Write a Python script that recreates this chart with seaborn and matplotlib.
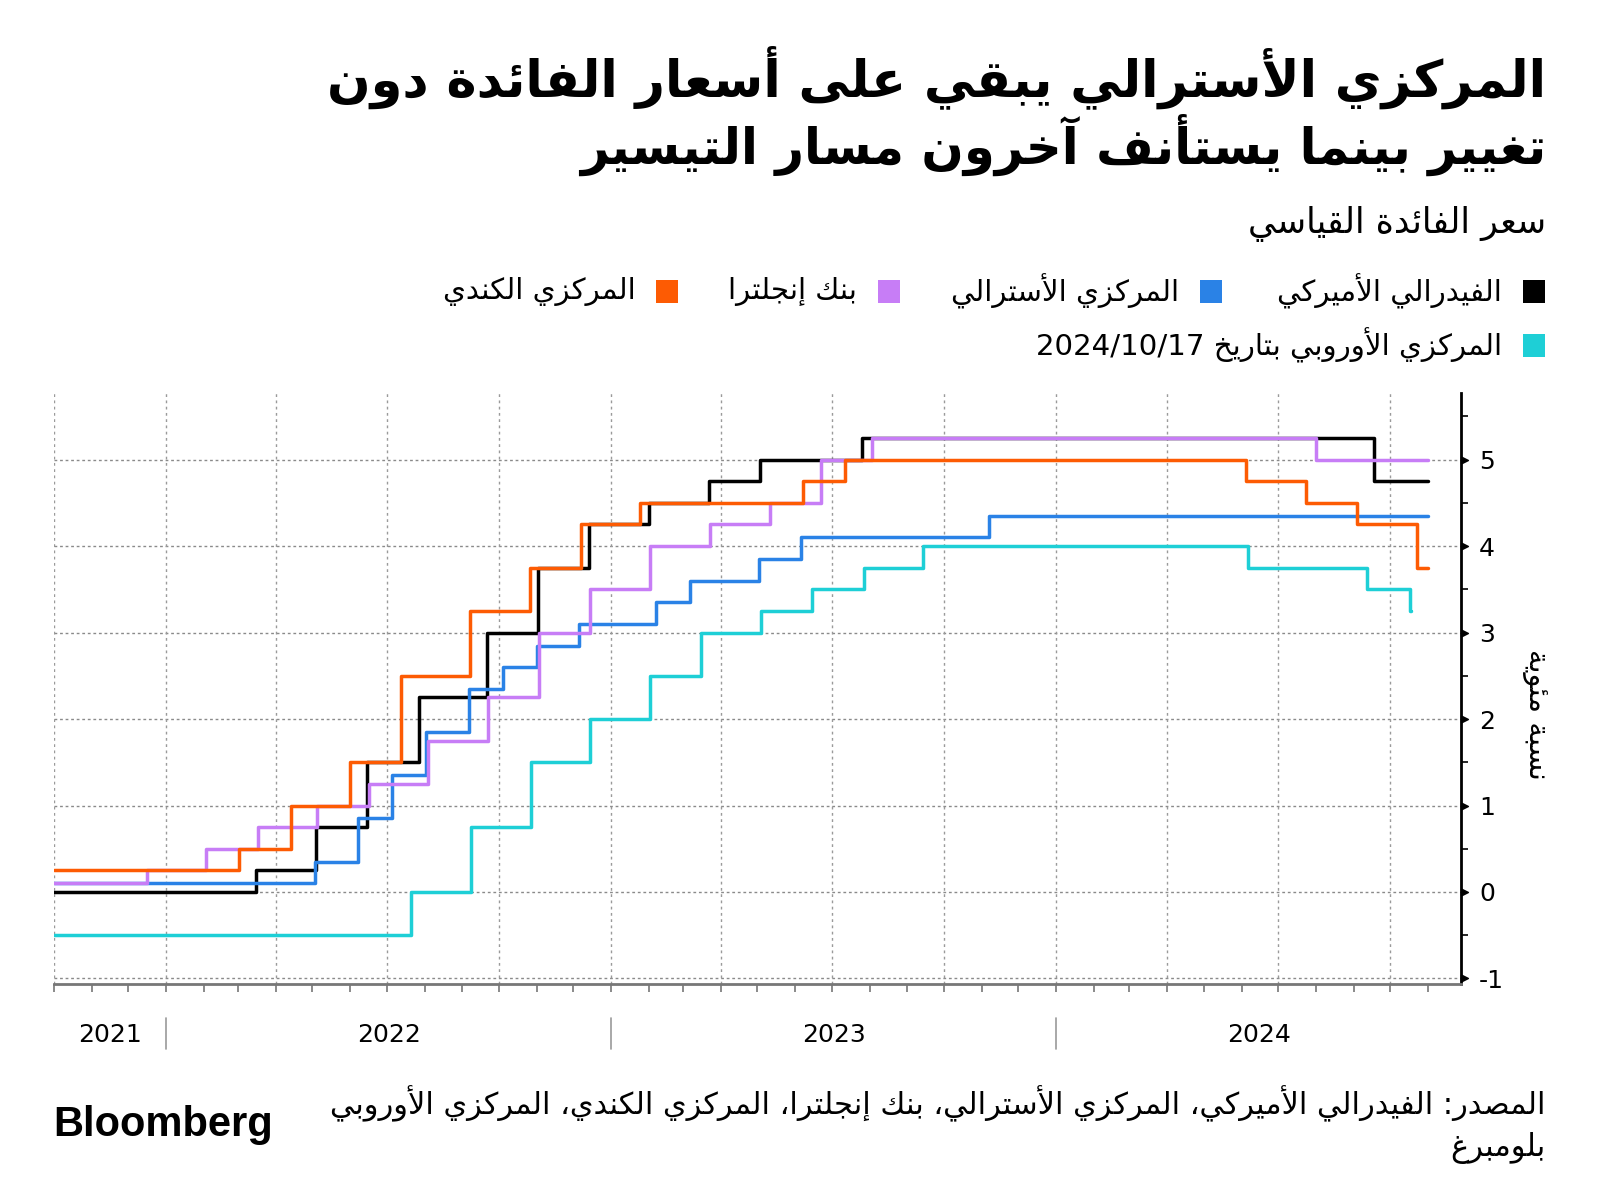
import re
import numpy as np
import pandas as pd
import matplotlib
matplotlib.use("Agg")
import matplotlib.pyplot as plt
import matplotlib.dates as mdates
from matplotlib.patches import Rectangle
from matplotlib.path import Path
import seaborn as sns

# ---------------- data ----------------
bank_names = ["الفيدرالي الأميركي", "المركزي الأسترالي", "بنك إنجلترا",
              "المركزي الكندي", "المركزي الأوروبي بتاريخ 2024/10/17"]
bank_colors = ["#000000", "#2a82e6", "#c77df6", "#fd5b03", "#1ecfd6"]

fed_dates = ["2021-10-01", "2022-03-16", "2022-05-04", "2022-06-15", "2022-07-27",
             "2022-09-21", "2022-11-02", "2022-12-14", "2023-02-01", "2023-03-22",
             "2023-05-03", "2023-07-26", "2024-09-18", "2024-11-01"]
fed_rates = [0.0, 0.25, 0.75, 1.5, 2.25, 3.0, 3.75, 4.25, 4.5, 4.75, 5.0, 5.25, 4.75, 4.75]

rba_dates = ["2021-10-01", "2022-05-03", "2022-06-07", "2022-07-05", "2022-08-02",
             "2022-09-06", "2022-10-04", "2022-11-01", "2022-12-06", "2023-02-07",
             "2023-03-07", "2023-05-02", "2023-06-06", "2023-11-07", "2024-11-01"]
rba_rates = [0.10, 0.35, 0.85, 1.35, 1.85, 2.35, 2.60, 2.85, 3.10, 3.35, 3.60, 3.85,
             4.10, 4.35, 4.35]

boe_dates = ["2021-10-01", "2021-12-16", "2022-02-03", "2022-03-17", "2022-05-05",
             "2022-06-16", "2022-08-04", "2022-09-22", "2022-11-03", "2022-12-15",
             "2023-02-02", "2023-03-23", "2023-05-11", "2023-06-22", "2023-08-03",
             "2024-08-01", "2024-11-01"]
boe_rates = [0.10, 0.25, 0.50, 0.75, 1.00, 1.25, 1.75, 2.25, 3.00, 3.50, 4.00, 4.25,
             4.50, 5.00, 5.25, 5.00, 5.00]

boc_dates = ["2021-10-01", "2022-03-02", "2022-04-13", "2022-06-01", "2022-07-13",
             "2022-09-07", "2022-10-26", "2022-12-07", "2023-01-25", "2023-06-07",
             "2023-07-12", "2024-06-05", "2024-07-24", "2024-09-04", "2024-10-23",
             "2024-11-01"]
boc_rates = [0.25, 0.50, 1.00, 1.50, 2.50, 3.25, 3.75, 4.25, 4.50, 4.75, 5.00, 4.75,
             4.50, 4.25, 3.75, 3.75]

ecb_dates = ["2021-10-01", "2022-07-21", "2022-09-08", "2022-10-27", "2022-12-15",
             "2023-02-02", "2023-03-16", "2023-05-04", "2023-06-15", "2023-07-27",
             "2023-09-14", "2024-06-06", "2024-09-12", "2024-10-17", "2024-10-18"]
ecb_rates = [-0.5, 0.0, 0.75, 1.5, 2.0, 2.5, 3.0, 3.25, 3.5, 3.75, 4.0, 3.75, 3.5,
             3.25, 3.25]

y_ticks = [-1, 0, 1, 2, 3, 4, 5]
year_labels = ["2021", "2022", "2023", "2024"]

title_lines = ["المركزي الأسترالي يبقي على أسعار الفائدة دون",
               "تغيير بينما يستأنف آخرون مسار التيسير"]
subtitle = "سعر الفائدة القياسي"
y_label = "نسبة مئوية"
source_lines = ["المصدر: الفيدرالي الأميركي، المركزي الأسترالي، بنك إنجلترا، المركزي الكندي، المركزي الأوروبي",
                "بلومبرغ"]

# ---------------- Arabic shaping (presentation forms + visual order) ----------------
_D = "D"; _R = "R"; _U = "U"
_AR = {
    "\u0621": (0xFE80, _U), "\u0622": (0xFE81, _R), "\u0623": (0xFE83, _R),
    "\u0624": (0xFE85, _R), "\u0625": (0xFE87, _R), "\u0626": (0xFE89, _D),
    "\u0627": (0xFE8D, _R), "\u0628": (0xFE8F, _D), "\u0629": (0xFE93, _R),
    "\u062A": (0xFE95, _D), "\u062B": (0xFE99, _D), "\u062C": (0xFE9D, _D),
    "\u062D": (0xFEA1, _D), "\u062E": (0xFEA5, _D), "\u062F": (0xFEA9, _R),
    "\u0630": (0xFEAB, _R), "\u0631": (0xFEAD, _R), "\u0632": (0xFEAF, _R),
    "\u0633": (0xFEB1, _D), "\u0634": (0xFEB5, _D), "\u0635": (0xFEB9, _D),
    "\u0636": (0xFEBD, _D), "\u0637": (0xFEC1, _D), "\u0638": (0xFEC5, _D),
    "\u0639": (0xFEC9, _D), "\u063A": (0xFECD, _D), "\u0641": (0xFED1, _D),
    "\u0642": (0xFED5, _D), "\u0643": (0xFED9, _D), "\u0644": (0xFEDD, _D),
    "\u0645": (0xFEE1, _D), "\u0646": (0xFEE5, _D), "\u0647": (0xFEE9, _D),
    "\u0648": (0xFEED, _R), "\u0649": (0xFEEF, _R), "\u064A": (0xFEF1, _D),
}
_LAMALEF = {"\u0622": 0xFEF5, "\u0623": 0xFEF7, "\u0625": 0xFEF9, "\u0627": 0xFEFB}


def _shape(s):
    out = []
    i, n = 0, len(s)
    while i < n:
        c = s[i]
        if c not in _AR:
            out.append(c)
            i += 1
            continue
        prev = s[i - 1] if i > 0 else None
        prev_j = prev in _AR and _AR[prev][1] == _D
        if c == "\u0644" and i + 1 < n and s[i + 1] in _LAMALEF:
            out.append(chr(_LAMALEF[s[i + 1]] + (1 if prev_j else 0)))
            i += 2
            continue
        base, t = _AR[c]
        nxt = s[i + 1] if i + 1 < n else None
        next_j = t == _D and nxt in _AR and _AR[nxt][1] in (_D, _R)
        if t == _U:
            form = 0
        elif prev_j and next_j:
            form = 3
        elif prev_j:
            form = 1
        elif next_j:
            form = 2
        else:
            form = 0
        out.append(chr(base + form))
        i += 1
    return "".join(out)


def ar(s):
    shaped = _shape(s)
    runs = re.findall(r"[0-9A-Za-z/]+|[^0-9A-Za-z/]+", shaped)
    out = []
    for r in reversed(runs):
        if re.match(r"[0-9A-Za-z]", r):
            out.append(r)
        else:
            out.append(r[::-1])
    return "".join(out)


# ---------------- figure ----------------
sns.set_theme(style="white")
plt.rcParams["font.family"] = ["DejaVu Sans"]

W, H = 1600, 1203
fig = plt.figure(figsize=(W / 100, H / 100), dpi=100)
renderer = fig.canvas.get_renderer()


def fx(x):
    return x / W


def fy(y):
    return 1 - y / H


ax = fig.add_axes([fx(54), fy(984), (1461 - 54) / W, (984 - 393) / H])

frames = []
for name, d, r in zip(bank_names,
                      [fed_dates, rba_dates, boe_dates, boc_dates, ecb_dates],
                      [fed_rates, rba_rates, boe_rates, boc_rates, ecb_rates]):
    frames.append(pd.DataFrame({"date": pd.to_datetime(d), "rate": r, "bank": name}))
df = pd.concat(frames, ignore_index=True)

sns.lineplot(data=df, x="date", y="rate", hue="bank", hue_order=bank_names,
             palette=bank_colors, drawstyle="steps-post", estimator=None,
             linewidth=2.5, legend=False, ax=ax)

x0 = pd.Timestamp("2021-10-01")
x1 = pd.Timestamp("2024-11-28")
ax.set_xlim(x0, x1)
ax.set_ylim(-1.064, 5.77)
ax.set_xlabel("")
ax.set_ylabel("")

# grid
grid_kw = dict(color="#8a8a8a", linestyle=(0, (2, 2)), linewidth=1.0, zorder=0)
for yv in y_ticks:
    ax.axhline(yv, **grid_kw)
quarters = pd.date_range("2021-10-01", "2024-10-01", freq="QS")
for q in quarters:
    ax.axvline(q, color="#9a9a9a", linestyle=(0, (2, 2.5)), linewidth=1.0, zorder=0)

# spines
for s in ["top", "left"]:
    ax.spines[s].set_visible(False)
ax.spines["right"].set_color("black")
ax.spines["right"].set_linewidth(2.0)
ax.spines["bottom"].set_color("#777777")
ax.spines["bottom"].set_linewidth(2.0)

# y axis on right
ax.yaxis.tick_right()
ax.set_yticks(y_ticks)
ax.set_yticklabels([str(v) for v in y_ticks])
ax.set_yticks(np.arange(-0.5, 5.6, 1.0), minor=True)
ax.tick_params(axis="y", which="major", length=0, pad=13, labelsize=18,
               labelcolor="black", right=True, left=False)
ax.tick_params(axis="y", which="minor", length=5, width=1.2, color="black",
               direction="out", right=True, left=False)
tri = Path([(0, -0.55), (1.1, 0), (0, 0.55), (0, -0.55)],
           [Path.MOVETO, Path.LINETO, Path.LINETO, Path.CLOSEPOLY])
ax.plot([1.0] * len(y_ticks), y_ticks, linestyle="none", marker=tri, markersize=10,
        color="black", transform=ax.get_yaxis_transform(), clip_on=False, zorder=5)

# x axis: monthly ticks, no labels
ax.xaxis.set_major_locator(mdates.MonthLocator())
ax.xaxis.set_major_formatter(plt.NullFormatter())
ax.tick_params(axis="x", which="major", length=6, width=1.2, color="#777777",
               direction="out", bottom=True)

# year labels and separators
yt = ax.get_xaxis_transform()
year_starts = [pd.Timestamp(f"{y}-01-01") for y in year_labels]
bounds = [x0] + year_starts[1:] + [x1]
for lab, a, b in zip(year_labels, bounds[:-1], bounds[1:]):
    mid = a + (b - a) / 2
    ax.text(mid, -0.087, lab, transform=yt, ha="center", va="center",
            fontsize=18, color="black")
for ys in year_starts[1:]:
    ax.plot([ys, ys], [-0.057, -0.110], transform=yt, color="#999999",
            linewidth=1.2, clip_on=False)

# y label
fig.text(fx(1536), fy(714), ar(y_label), rotation=270, ha="center", va="center",
         fontsize=21, color="black")


# ---------------- texts ----------------
def fit_text(x, y, s, target_w, size, **kw):
    t = fig.text(fx(x), fy(y), ar(s), ha="right", va="center", fontsize=size, **kw)
    w = t.get_window_extent(renderer).width
    if w > target_w:
        t.set_fontsize(size * target_w / w)
    return t


fit_text(1546, 77, title_lines[0], 1219, 44, fontweight="bold", color="black")
fit_text(1546, 145, title_lines[1], 965, 44, fontweight="bold", color="black")
fit_text(1546, 224, subtitle, 306, 25, color="black")

# legend
leg_rows = [(291, 1523, 1502, 249), (291, 1200, 1179, 238), (291, 878, 857, 130),
            (291, 656, 636, 209), (345, 1523, 1502, 477)]
sizes = []
tmp = []
for (yy, sqx, tx, tw), name in zip(leg_rows, bank_names):
    t = fit_text(tx, yy, name, tw, 24, color="black")
    tmp.append(t)
    sizes.append(t.get_fontsize())
fs = min(sizes)
for t in tmp:
    t.set_fontsize(fs)
for (yy, sqx, tx, tw), c in zip(leg_rows, bank_colors):
    fig.add_artist(Rectangle((fx(sqx), fy(yy + 11.5)), 22 / W, 23 / H,
                             transform=fig.transFigure, color=c, linewidth=0))

# footer
fit_text(1546, 1104, source_lines[0], 1219, 24, color="black")
fit_text(1546, 1148, source_lines[1], 200, 22, color="black")
fig.text(fx(53), fy(1125), "Bloomberg", ha="left", va="center", fontsize=30,
         fontweight="bold", family=["Liberation Sans", "DejaVu Sans"], color="black")

fig.savefig("out.png", dpi=100, facecolor="white")
